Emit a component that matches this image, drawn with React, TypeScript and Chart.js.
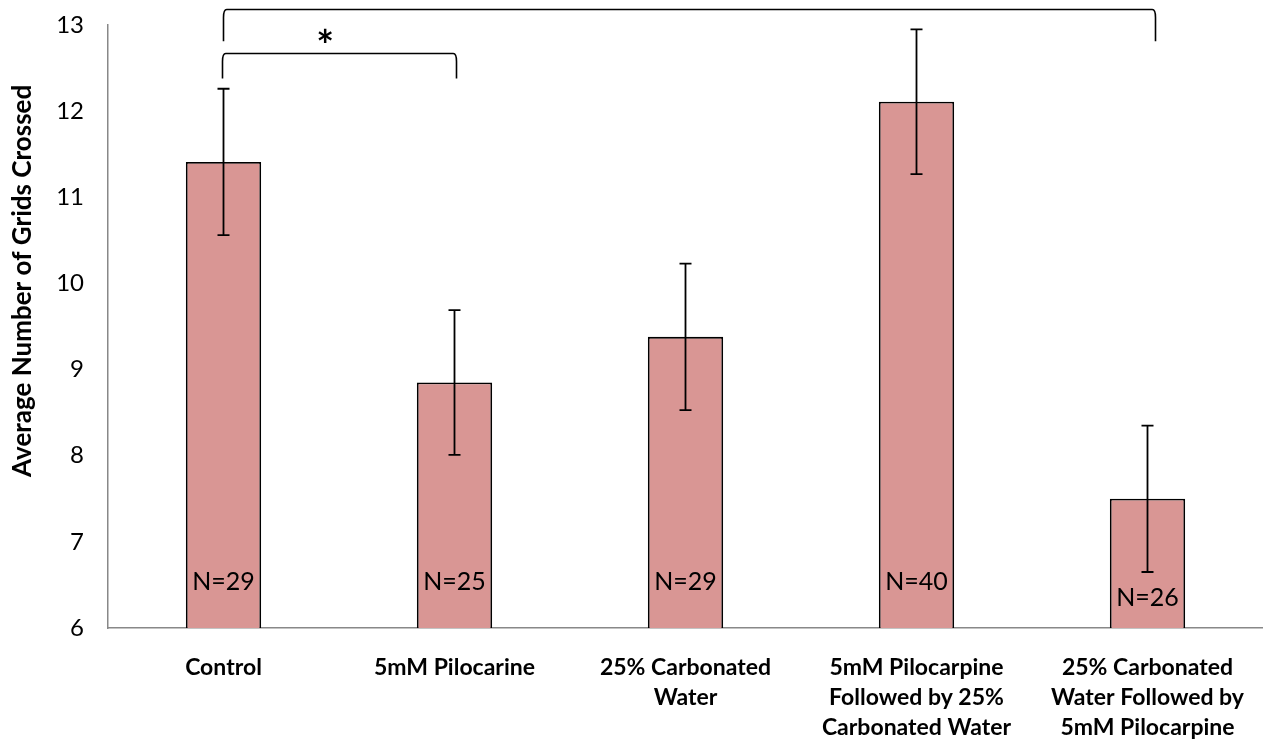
import React, { useEffect, useRef } from "react";
import { Chart, registerables } from "chart.js";

Chart.register(...registerables);

const categories: string[][] = [
  ["Control"],
  ["5mM Pilocarine"],
  ["25% Carbonated", "Water"],
  ["5mM Pilocarpine", "Followed by 25%", "Carbonated Water"],
  ["25% Carbonated", "Water Followed by", "5mM Pilocarpine"],
];
const means = [11.41, 8.85, 9.38, 12.11, 7.5];
const errors = [0.85, 0.84, 0.85, 0.84, 0.85];
const nLabels = ["N=29", "N=25", "N=29", "N=40", "N=26"];
const nLabelOffsets = [46, 46, 46, 46, 30];
const yTicks = [6, 7, 8, 9, 10, 11, 12, 13];
const yTitle = "Average Number of Grids Crossed";

const FONT = "Lato, 'Open Sans', sans-serif";

const overlayPlugin = {
  id: "overlay",
  afterDatasetsDraw(chart: any) {
    const ctx = chart.ctx;
    const x = chart.scales.x;
    const y = chart.scales.y;
    ctx.save();
    // error bars
    ctx.strokeStyle = "#000";
    ctx.lineWidth = 1.8;
    means.forEach((m, i) => {
      const cx = x.getPixelForValue(i);
      const top = y.getPixelForValue(m + errors[i]);
      const bot = y.getPixelForValue(m - errors[i]);
      ctx.beginPath();
      ctx.moveTo(cx, top);
      ctx.lineTo(cx, bot);
      ctx.moveTo(cx - 6, top);
      ctx.lineTo(cx + 6, top);
      ctx.moveTo(cx - 6, bot);
      ctx.lineTo(cx + 6, bot);
      ctx.stroke();
    });
    // N labels
    ctx.fillStyle = "#000";
    ctx.font = "25px " + FONT;
    ctx.textAlign = "center";
    ctx.textBaseline = "middle";
    nLabels.forEach((t, i) => {
      const cx = x.getPixelForValue(i);
      ctx.fillText(t, cx, y.getPixelForValue(6) - nLabelOffsets[i]);
    });
    // brackets
    const bracket = (x0: number, x1: number, yh: number, ye: number) => {
      const r = 8;
      ctx.beginPath();
      ctx.moveTo(x0, ye);
      ctx.lineTo(x0, yh + r);
      ctx.quadraticCurveTo(x0, yh, x0 + r * 0.4, yh);
      ctx.lineTo(x1 - r * 0.4, yh);
      ctx.quadraticCurveTo(x1, yh, x1, yh + r);
      ctx.lineTo(x1, ye);
      ctx.stroke();
    };
    ctx.lineWidth = 1.6;
    bracket(x.getPixelForValue(0), x.getPixelForValue(4) + 8, y.getPixelForValue(13.18), y.getPixelForValue(12.81));
    bracket(x.getPixelForValue(0) - 1, x.getPixelForValue(1) + 2, y.getPixelForValue(12.67), y.getPixelForValue(12.38));
    // asterisk
    ctx.font = "bold 42px " + FONT;
    const ax = x.getPixelForValue(0) + (x.getPixelForValue(1) - x.getPixelForValue(0)) * 0.44;
    ctx.fillText("*", ax, y.getPixelForValue(12.74));
    // y-axis title
    ctx.font = "bold 26px " + FONT;
    ctx.translate(23, y.getPixelForValue(10.03));
    ctx.rotate(-Math.PI / 2);
    ctx.fillText(yTitle, 0, 0);
    ctx.restore();
  },
};

export default function App() {
  const ref = useRef<HTMLCanvasElement | null>(null);
  useEffect(() => {
    const chart = new Chart(ref.current!, {
      type: "bar",
      data: {
        labels: categories,
        datasets: [
          {
            data: means,
            backgroundColor: "#D99694",
            borderColor: "#000",
            borderWidth: 1.8,
            barPercentage: 0.326,
            categoryPercentage: 1,
          },
        ],
      },
      options: {
        animation: false,
        responsive: false,
        layout: { padding: { top: 25, right: 0, left: 0, bottom: 0 } },
        plugins: { legend: { display: false }, tooltip: { enabled: false } },
        scales: {
          x: {
            grid: { display: false, drawTicks: false },
            border: { color: "#888", width: 1.5 },
            ticks: {
              color: "#000",
              font: { family: FONT, size: 23, weight: "bold", lineHeight: 1.3 },
              padding: 25,
              maxRotation: 0,
              autoSkip: false,
            },
            afterFit(s: any) {
              s.height = 115;
              s.paddingLeft = 0;
              s.paddingRight = 0;
            },
          },
          y: {
            min: 6,
            max: 13,
            grid: { display: false, drawTicks: false },
            border: { color: "#888", width: 1.5 },
            afterBuildTicks(s: any) {
              s.ticks = yTicks.map((v) => ({ value: v }));
            },
            ticks: {
              color: "#000",
              font: { family: FONT, size: 24 },
              padding: 24,
            },
            title: { display: false },
            afterFit(s: any) {
              s.width = 108;
              s.paddingTop = 0;
              s.paddingBottom = 0;
            },
          },
        },
      },
      plugins: [overlayPlugin],
    });
    return () => chart.destroy();
  }, []);
  return (
    <div style={{ position: "fixed", left: 0, top: 0, width: 1263, height: 743, background: "#fff" }}>
      <canvas ref={ref} width={1263} height={743} />
    </div>
  );
}
